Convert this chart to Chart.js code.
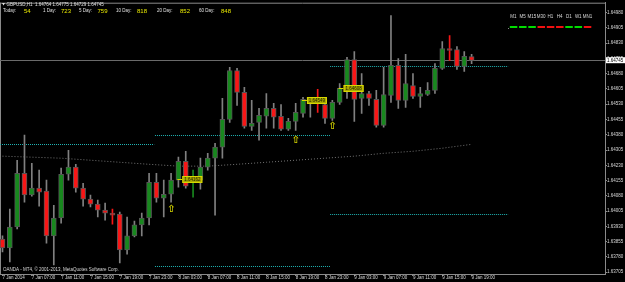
<!DOCTYPE html>
<html>
<head>
<meta charset="utf-8">
<script src="https://cdn.jsdelivr.net/npm/chart.js@4.4.1/dist/chart.umd.min.js"></script>
<style>
  html, body { margin: 0; padding: 0; background: #000; }
  #wrap { width: 625px; height: 282px; position: relative; }
</style>
</head>
<body>
<div id="wrap"><canvas id="chart"></canvas></div>
<script>
// GBPUSD H1, one entry per bar (7 Jan 03:00 .. 9 Jan 19:00)
var opens = [1.63868,1.63824,1.63927,1.64191,1.64084,1.64118,1.64103,1.63883,1.63971,1.64186,
  1.64221,1.64118,1.64064,1.64039,1.64010,1.63995,1.63990,1.63814,1.63883,1.63937,
  1.63971,1.64147,1.64069,1.64088,1.64157,1.64250,1.64167,1.64157,1.64221,1.64265,
  1.64319,1.64456,1.64696,1.64588,1.64421,1.64441,1.64471,1.64510,1.64471,1.64407,
  1.64446,1.64485,1.64554,1.64544,1.64529,1.64461,1.64539,1.64608,1.64750,1.64559,
  1.64583,1.64554,1.64426,1.64574,1.64721,1.64549,1.64622,1.64569,1.64578,1.64598,
  1.64706,1.64804,1.64799,1.64716,1.64764];
var highs = [1.63883,1.64015,1.64255,1.64378,1.64240,1.64206,1.64157,1.64034,1.64216,1.64304,
  1.64235,1.64142,1.64084,1.64059,1.64044,1.64015,1.64000,1.63976,1.63956,1.63995,
  1.64191,1.64191,1.64157,1.64191,1.64270,1.64299,1.64206,1.64265,1.64289,1.64338,
  1.64559,1.64711,1.64706,1.64613,1.64549,1.64510,1.64583,1.64534,1.64529,1.64461,
  1.64534,1.64564,1.64564,1.64603,1.64544,1.64549,1.64632,1.64760,1.64789,1.64681,
  1.64593,1.64598,1.64711,1.64966,1.64755,1.64775,1.64681,1.64613,1.64637,1.64730,
  1.64838,1.64868,1.64814,1.64789,1.64775];
var lows = [1.63804,1.63755,1.63917,1.64049,1.64079,1.64029,1.63848,1.63740,1.63946,1.64157,
  1.64098,1.64029,1.64025,1.63976,1.63961,1.63941,1.63750,1.63794,1.63878,1.63883,
  1.63937,1.64049,1.63976,1.64049,1.64123,1.64118,1.64074,1.64113,1.64206,1.63985,
  1.64265,1.64441,1.64524,1.64412,1.64402,1.64353,1.64412,1.64412,1.64402,1.64402,
  1.64402,1.64466,1.64466,1.64490,1.64436,1.64451,1.64529,1.64559,1.64446,1.64485,
  1.64524,1.64417,1.64417,1.64539,1.64510,1.64515,1.64559,1.64515,1.64574,1.64583,
  1.64701,1.64745,1.64701,1.64691,1.64729];
var closes = [1.63824,1.63927,1.64191,1.64084,1.64118,1.64098,1.63883,1.63971,1.64186,1.64221,
  1.64118,1.64064,1.64039,1.64010,1.63995,1.63985,1.63814,1.63883,1.63937,1.63971,
  1.64147,1.64069,1.64088,1.64157,1.64250,1.64128,1.64172,1.64221,1.64265,1.64319,
  1.64456,1.64696,1.64588,1.64421,1.64436,1.64475,1.64510,1.64466,1.64407,1.64446,
  1.64490,1.64554,1.64539,1.64534,1.64461,1.64539,1.64608,1.64750,1.64554,1.64583,
  1.64559,1.64426,1.64578,1.64721,1.64549,1.64632,1.64569,1.64583,1.64598,1.64706,
  1.64804,1.64794,1.64716,1.64765,1.64745];

// slow moving average, read every 4th bar
var maBars = [0,4,8,12,16,20,24,28,32,36,40,44,48,52,56,60,64];
var maValues = [1.64275,1.64270,1.64265,1.64255,1.64245,1.64235,1.64226,1.64226,1.64235,
  1.64245,1.64255,1.64265,1.64275,1.64289,1.64299,1.64314,1.64333];

// dotted support/resistance levels
var levelPrices = [1.64333, 1.64378, 1.63736, 1.64716, 1.63990];
var levelFrom = [-0.34, 20.8, 20.8, 44.7, 44.7];
var levelTo = [20.7, 44.7, 44.7, 69.0, 69.0];

// yellow price tags and arrows
var tagBars = [25.9, 42.9, 47.9];
var tagPrices = [1.64162, 1.64549, 1.64608];
var arrowBars = [23, 40, 45];
var arrowPrices = [1.64015, 1.64353, 1.64421];

var xTickLabels = ['7 Jan 2014','7 Jan 07:00','7 Jan 11:00','7 Jan 15:00','7 Jan 19:00','7 Jan 23:00',
  '8 Jan 03:00','8 Jan 07:00','8 Jan 11:00','8 Jan 15:00','8 Jan 19:00','8 Jan 23:00',
  '9 Jan 03:00','9 Jan 07:00','9 Jan 11:00','9 Jan 15:00','9 Jan 19:00'];
var yTicks = [1.63705,1.63780,1.63855,1.63930,1.64005,1.64080,1.64155,1.64230,1.64305,
  1.64380,1.64455,1.64530,1.64605,1.64680,1.64755,1.64830,1.64905,1.64980];

var tfNames = ['M1','M5','M15','M30','H1','H4','D1','W1','MN1'];
var tfUp = [true,true,true,false,false,false,true,true,false];

var header = 'GBPUSD,H1  1.64764 1.64775 1.64729 1.64745';
var rangeNames = ['Today:','1 Day:','5 Day:','10 Day:','20 Day:','60 Day:'];
var rangeValues = ['54','723','759','818','852','848'];

var UP = '#18881e', DOWN = '#f81616', WICK = '#808080';
var FONT = '"Liberation Sans", Arial, sans-serif';

var wicks = [], bodies = [], bodyColors = [], wickColors = [];
for (var i = 0; i < opens.length; i++) {
    wicks.push({x: i, y: [lows[i], highs[i]]});
    bodies.push({x: i, y: [opens[i], closes[i]]});
    var c = closes[i] >= opens[i] ? UP : DOWN;
    bodyColors.push(c);
    wickColors.push(Math.abs(closes[i] - opens[i]) < 0.0001 ? c : WICK);
}
var maPoints = maBars.map(function (b, k) { return {x: b, y: maValues[k]}; });
var lastClose = closes[closes.length - 1];

function hline(ctx, x1, x2, y) {
    ctx.beginPath(); ctx.moveTo(x1, y); ctx.lineTo(x2, y); ctx.stroke();
}

var decor = {
    id: 'decor',
    beforeDatasetsDraw: function (chart) {
        var ctx = chart.ctx, a = chart.chartArea, xs = chart.scales.x, ys = chart.scales.y;
        ctx.save();
        ctx.lineWidth = 1;
        // frame
        ctx.strokeStyle = '#8a8a8a';
        hline(ctx, a.left, a.right, a.top + 0.5);
        ctx.beginPath(); ctx.moveTo(a.left + 0.5, a.top); ctx.lineTo(a.left + 0.5, a.bottom); ctx.stroke();
        // bid line
        ctx.strokeStyle = '#6a6a6a';
        hline(ctx, a.left, a.right, Math.round(ys.getPixelForValue(lastClose)) - 0.5);
        // levels
        ctx.strokeStyle = '#1fb2b2';
        ctx.setLineDash([1, 1]);
        levelPrices.forEach(function (p, k) {
            var yy = Math.round(ys.getPixelForValue(p)) + 0.5;
            hline(ctx, xs.getPixelForValue(levelFrom[k]), xs.getPixelForValue(levelTo[k]), yy);
        });
        ctx.restore();
    },
    afterDatasetsDraw: function (chart) {
        var ctx = chart.ctx, xs = chart.scales.x, ys = chart.scales.y;
        ctx.save();
        // price tags
        tagBars.forEach(function (b, k) {
            var cx = xs.getPixelForValue(b), cy = Math.round(ys.getPixelForValue(tagPrices[k]));
            ctx.strokeStyle = '#d8d800'; ctx.lineWidth = 1;
            hline(ctx, cx - 15, cx - 10, cy + 0.5);
            ctx.fillStyle = '#a8a800';
            ctx.fillRect(cx - 10, cy - 3, 20, 7);
            ctx.strokeRect(cx - 9.5, cy - 2.5, 19, 6);
            ctx.fillStyle = '#1a1a00';
            ctx.font = '4.5px ' + FONT;
            ctx.textAlign = 'center'; ctx.textBaseline = 'middle';
            ctx.fillText(tagPrices[k].toFixed(5), cx, cy + 0.7);
        });
        // arrows
        ctx.fillStyle = '#d0d000';
        ctx.font = 'bold 10px "DejaVu Sans"';
        ctx.textAlign = 'center'; ctx.textBaseline = 'middle';
        arrowBars.forEach(function (b, k) {
            ctx.fillText('\u21E7', xs.getPixelForValue(b), ys.getPixelForValue(arrowPrices[k]));
        });
        ctx.restore();
    },
    afterDraw: function (chart) {
        var ctx = chart.ctx, a = chart.chartArea, ys = chart.scales.y;
        ctx.save();
        ctx.textBaseline = 'middle'; ctx.textAlign = 'left';
        // header
        ctx.fillStyle = '#e0e0e0';
        ctx.beginPath(); ctx.moveTo(2, 3); ctx.lineTo(5, 3); ctx.lineTo(3.5, 5.5); ctx.closePath(); ctx.fill();
        ctx.font = '4.5px ' + FONT;
        ctx.fillText(header, 6.5, 4.3);
        var nameX = [3, 43, 79, 116, 157, 199], valX = [24, 61, 97.5, 137, 180, 221];
        rangeNames.forEach(function (n, k) {
            ctx.fillStyle = '#e0e0e0'; ctx.font = '4.5px ' + FONT;
            ctx.fillText(n, nameX[k], 11.2);
            ctx.fillStyle = '#e8e800'; ctx.font = '6px ' + FONT;
            ctx.fillText(rangeValues[k], valX[k], 11);
        });
        // timeframe panel
        ctx.font = '4.5px ' + FONT; ctx.textAlign = 'center';
        tfNames.forEach(function (n, k) {
            var cx = 513.5 + k * 9.25;
            ctx.fillStyle = '#d8d8d8';
            ctx.fillText(n, cx, 16.8);
            ctx.fillStyle = tfUp[k] ? '#00dc00' : '#f01010';
            ctx.fillRect(cx - 3.7, 26, 7.5, 2);
        });
        ctx.fillStyle = '#888';
        ctx.fillRect(508, 28, 1, 1);
        // copyright
        ctx.textAlign = 'left'; ctx.fillStyle = '#d8d8d8';
        ctx.fillText('OANDA - MT4, \u00A9 2001-2013, MetaQuotes Software Corp.', 3, 269.3);
        // current price tag
        var py = ys.getPixelForValue(lastClose);
        ctx.fillStyle = '#ffffff';
        ctx.fillRect(a.right + 1, py - 3.3, 19, 6);
        ctx.fillStyle = '#000000';
        ctx.fillText(lastClose.toFixed(5), a.right + 2, py);
        ctx.restore();
    }
};

Chart.defaults.font.family = FONT;

new Chart(document.getElementById('chart').getContext('2d'), {
    type: 'bar',
    data: {
        datasets: [
            {
                type: 'line',
                data: maPoints,
                borderColor: '#747474',
                borderWidth: 1,
                borderDash: [1, 2],
                pointRadius: 0,
                tension: 0,
                order: 3
            },
            {
                data: wicks,
                backgroundColor: wickColors,
                borderWidth: 0,
                barThickness: 1,
                grouped: false,
                order: 2
            },
            {
                data: bodies,
                backgroundColor: bodyColors,
                borderColor: '#555555',
                borderWidth: 1,
                borderSkipped: false,
                barThickness: 5,
                grouped: false,
                order: 1
            }
        ]
    },
    options: {
        responsive: true,
        maintainAspectRatio: false,
        animation: false,
        layout: { padding: { top: 2, left: 0, right: 0, bottom: 0 } },
        plugins: { legend: { display: false }, tooltip: { enabled: false } },
        scales: {
            x: {
                type: 'linear',
                offset: false,
                min: -0.34,
                max: 82.2,
                afterFit: function (s) { s.height = 8; },
                afterBuildTicks: function (s) {
                    s.ticks = xTickLabels.map(function (_, k) { return {value: k * 4}; });
                },
                grid: { drawOnChartArea: false, offset: false, color: '#8a8a8a', tickLength: 2 },
                border: { color: '#8a8a8a' },
                ticks: {
                    autoSkip: false,
                    maxRotation: 0,
                    align: 'start',
                    padding: -1,
                    color: '#d8d8d8',
                    font: { size: 4.5 },
                    callback: function (v, i) { return xTickLabels[i]; }
                }
            },
            y: {
                position: 'right',
                min: 1.63696,
                max: 1.65029,
                afterFit: function (s) { s.width = 20; },
                afterBuildTicks: function (s) {
                    s.ticks = yTicks.map(function (v) { return {value: v}; });
                },
                grid: { drawOnChartArea: false, color: '#8a8a8a', tickLength: 2 },
                border: { color: '#8a8a8a' },
                ticks: {
                    padding: 0,
                    color: '#d8d8d8',
                    font: { size: 4.5 },
                    callback: function (v) { return v.toFixed(5); }
                }
            }
        }
    },
    plugins: [decor]
});
</script>
</body>
</html>
